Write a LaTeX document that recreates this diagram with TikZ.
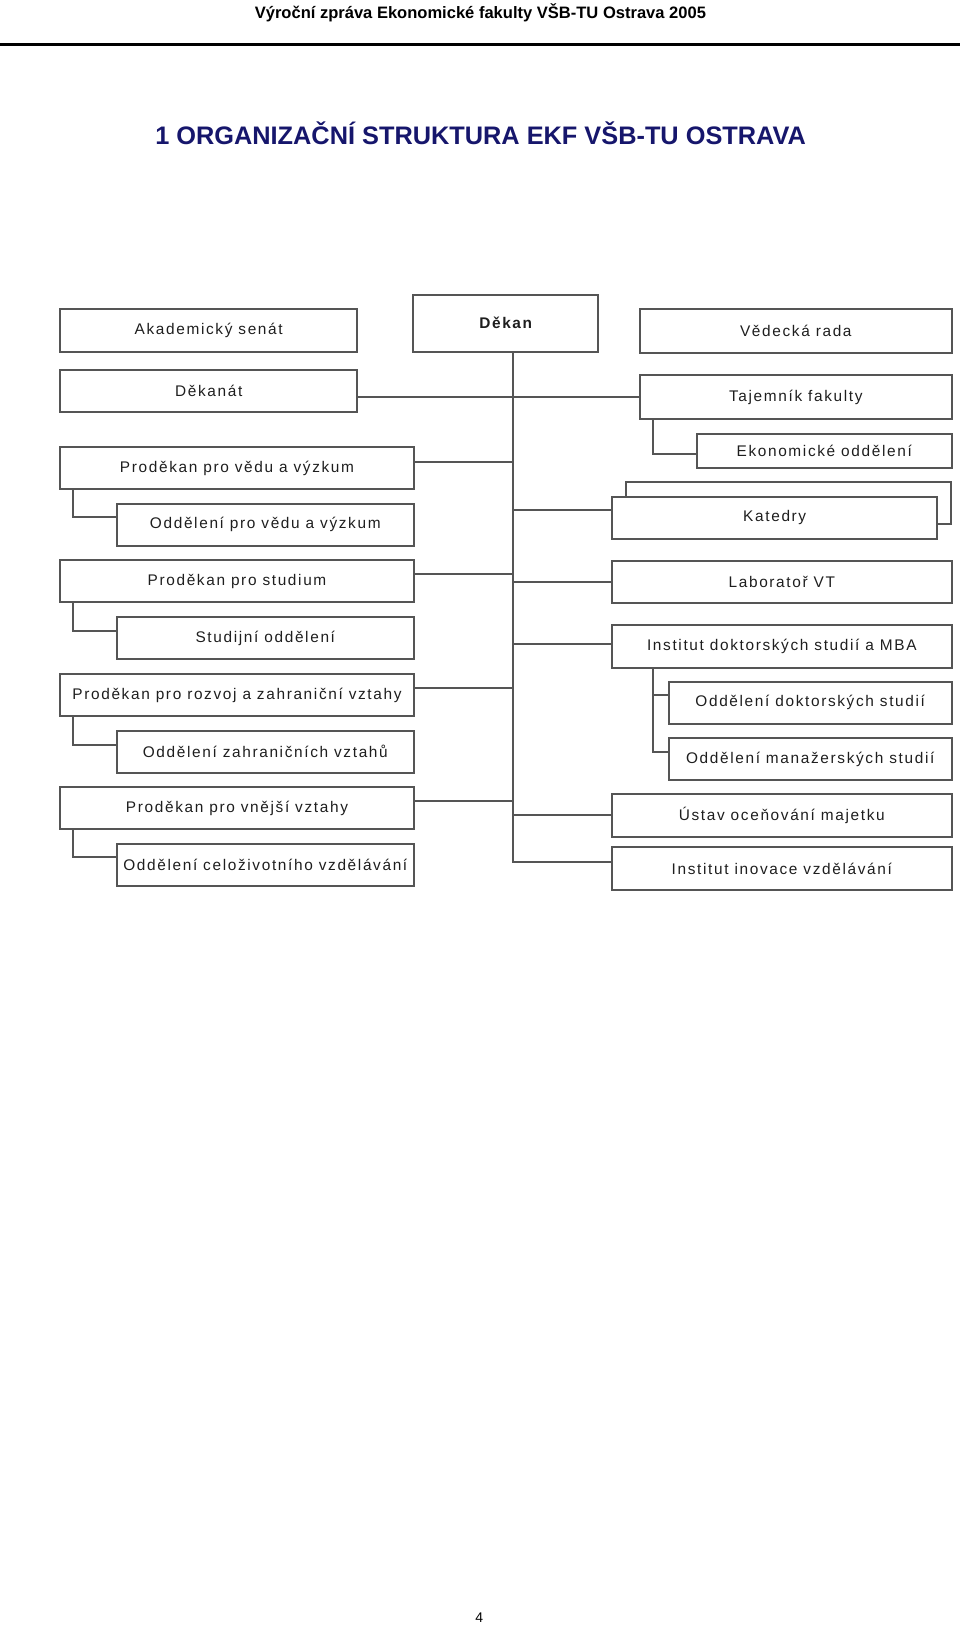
\documentclass[tikz,border=0pt]{standalone}
\usepackage{fontspec}
\setmainfont{Liberation Sans}
\newfontfamily\boxfont{Liberation Sans}[LetterSpace=10.7]
\usepackage{xcolor}
\usepackage{tikz}
\usetikzlibrary{shadows}
\definecolor{linegray}{RGB}{85,85,85}
\definecolor{boxtext}{RGB}{30,30,30}
\definecolor{titleblue}{RGB}{22,22,108}

\begin{document}
\begin{tikzpicture}[x=0.75pt, y=-0.75pt,
  orgbox/.style={draw=linegray, line width=1.5pt, rectangle, inner sep=0pt, text=boxtext, font=\boxfont\fontsize{11.55}{14}\selectfont},
  senate/.style={orgbox, minimum width=223pt, minimum height=31.5pt},
  unit/.style={orgbox, minimum width=265.5pt, minimum height=31.5pt},
  subunit/.style={orgbox, minimum width=223pt, minimum height=31.5pt},
  council/.style={orgbox, minimum width=233.8pt, minimum height=33pt},
  wide/.style={orgbox, minimum width=254.8pt, minimum height=32pt},
  section/.style={orgbox, minimum width=212.25pt, minimum height=31.7pt},
  link/.style={draw=linegray, line width=1.35pt}
]
\useasboundingbox (0,0) rectangle (960,1626);
\node[anchor=base, font=\bfseries\fontsize{12.4}{15}\selectfont] (header) at (480.4,18.3) {Výroční zpráva Ekonomické fakulty VŠB-TU Ostrava 2005};
\draw[line width=2.4pt] (0,44.3) -- (960,44.3);
\node[anchor=base, text=titleblue, font=\bfseries\fontsize{19}{23}\selectfont] (title) at (480.6,145) {1 ORGANIZAČNÍ STRUKTURA EKF VŠB-TU OSTRAVA};
\node[senate] (senat) at (208.7,330.5) {Akademický senát};
\node[orgbox, font=\boxfont\bfseries\fontsize{11.55}{14}\selectfont, minimum width=138.5pt, minimum height=42.5pt] (dekan) at (505.7,323.3) {Děkan};
\node[council] (rada) at (795.8,331.3) {Vědecká rada};
\node[senate] (dekanat) at (208.7,390.5) {Děkanát};
\node[council] (tajemnik) at (795.8,397.3) {Tajemník fakulty};
\node[orgbox, minimum width=191.25pt, minimum height=25.7pt] (ekon) at (824.2,451.2) {Ekonomické oddělení};
\node[unit] (pvv) at (237,468.2) {Proděkan pro vědu a výzkum};
\node[subunit] (ovv) at (265.3,524.5) {Oddělení pro vědu a výzkum};
\node[orgbox, fill=white, minimum width=244pt, minimum height=31.7pt,
  copy shadow={shadow xshift=10.5pt, shadow yshift=11pt}] (katedry) at (774.7,517.8) {Katedry};
\node[unit] (ps) at (237,581.3) {Proděkan pro studium};
\node[subunit] (so) at (265.3,638.3) {Studijní oddělení};
\node[wide] (lab) at (781.8,582) {Laboratoř VT};
\node[wide] (ids) at (781.8,646.2) {Institut doktorských studií a MBA};
\node[unit] (pr) at (237,695) {Proděkan pro rozvoj a zahraniční vztahy};
\node[section] (ods) at (810.2,702.8) {Oddělení doktorských studií};
\node[subunit] (ozv) at (265.3,751.7) {Oddělení zahraničních vztahů};
\node[section] (oms) at (810.2,759.3) {Oddělení manažerských studií};
\node[unit] (pe) at (237,808.2) {Proděkan pro vnější vztahy};
\node[wide] (uom) at (781.8,815.5) {Ústav oceňování majetku};
\node[subunit] (ocv) at (265.3,864.8) {Oddělení celoživotního vzdělávání};
\node[wide] (iiv) at (781.8,868.7) {Institut inovace vzdělávání};
\node[anchor=base, font=\fontsize{10.5}{12}\selectfont] (pagenum) at (479.3,1622) {4};
\coordinate (trunk) at ([xshift=5.25pt]dekan.south);
\coordinate (idsfoot) at ([xshift=31.7pt]ids.south west);
\draw[link] (trunk) |- ([yshift=5.25pt]iiv.west);
\draw[link] (dekanat.east |- tajemnik.west) -- (tajemnik.west);
\draw[link] ([yshift=4.9pt]pvv.east) -- ([yshift=4.9pt]pvv.east -| trunk);
\draw[link] ([yshift=5.4pt]ps.east) -- ([yshift=5.4pt]ps.east -| trunk);
\draw[link] ([yshift=5.25pt]pr.east) -- ([yshift=5.25pt]pr.east -| trunk);
\draw[link] ([yshift=5.4pt]pe.east) -- ([yshift=5.4pt]pe.east -| trunk);
\draw[link] ([yshift=5.85pt]katedry.west) -- ([yshift=5.85pt]katedry.west -| trunk);
\draw[link] (lab.west) -- (lab.west -| trunk);
\draw[link] ([yshift=1.4pt]ids.west) -- ([yshift=1.4pt]ids.west -| trunk);
\draw[link] ([yshift=0.5pt]uom.west) -- ([yshift=0.5pt]uom.west -| trunk);
\draw[link] ([xshift=10.7pt]pvv.south west) |- ([yshift=5.4pt]ovv.west);
\draw[link] ([xshift=10.7pt]ps.south west) |- ([yshift=5.7pt]so.west);
\draw[link] ([xshift=10.7pt]pr.south west) |- ([yshift=5.25pt]ozv.west);
\draw[link] ([xshift=10.7pt]pe.south west) |- ([yshift=5.6pt]ocv.west);
\draw[link] ([xshift=10.7pt]tajemnik.south west) |- ([yshift=-2.1pt]ekon.west);
\draw[link] (idsfoot) |- ([yshift=5.25pt]oms.west);
\draw[link] ([yshift=5.6pt]ods.west) -- ([yshift=5.6pt]ods.west -| idsfoot);
\end{tikzpicture}
\end{document}
